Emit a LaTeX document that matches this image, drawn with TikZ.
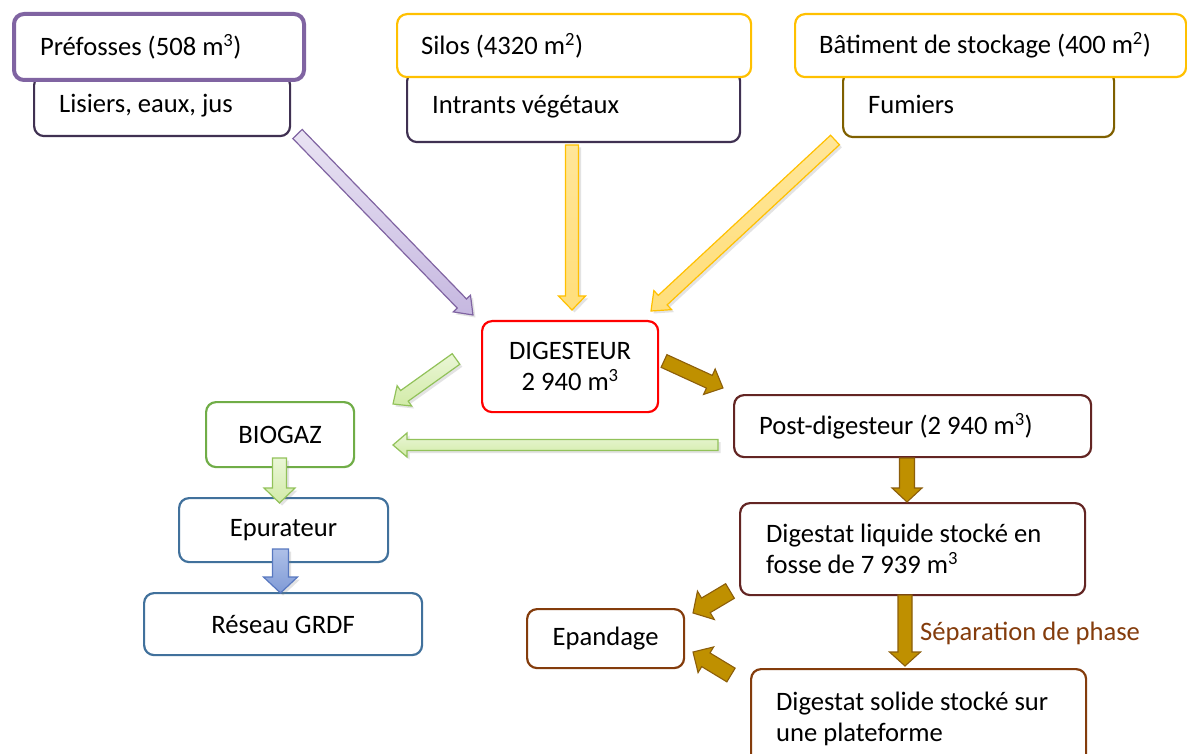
\documentclass[tikz,border=0pt]{standalone}
\usepackage{fontspec}
\setmainfont{Carlito}
\usetikzlibrary{calc,shadows}
\definecolor{prp}{HTML}{8064A2}
\definecolor{dprp}{HTML}{403152}
\definecolor{yel}{HTML}{FFC000}
\definecolor{olv}{HTML}{7F6000}
\definecolor{grn}{HTML}{70AD47}
\definecolor{blu}{HTML}{41719C}
\definecolor{dred}{HTML}{632523}
\definecolor{brn}{HTML}{843C0C}
\definecolor{abrn}{HTML}{BF9000}
\definecolor{abrnd}{HTML}{8C5E0A}
\definecolor{agtop}{HTML}{EAF6D6}
\definecolor{agbot}{HTML}{D2EBA8}
\definecolor{agdr}{HTML}{92C25A}
\definecolor{abtop}{HTML}{AEC0E8}
\definecolor{abbot}{HTML}{7F9AD6}
\definecolor{abdr}{HTML}{5878C0}
\definecolor{aptop}{HTML}{E9E3F3}
\definecolor{apbot}{HTML}{C6B8E0}
\newcommand\barrow[6]{%
  \draw[#1] let \p1=(#2), \p2=(#3), \n1={atan2(\y2-\y1,\x2-\x1)}, \n2={veclen(\x2-\x1,\y2-\y1)} in
    ($(\p1)+(\n1+90:#4)$) -- ($(\p1)+(\n1:\n2-#6)+(\n1+90:#4)$) -- ($(\p1)+(\n1:\n2-#6)+(\n1+90:#5)$)
    -- (\p2) -- ($(\p1)+(\n1:\n2-#6)+(\n1-90:#5)$) -- ($(\p1)+(\n1:\n2-#6)+(\n1-90:#4)$)
    -- ($(\p1)+(\n1-90:#4)$) -- cycle;}
\tikzset{
  box/.style={draw, rounded corners=10pt, fill=white, line width=2.2pt, anchor=north west, inner ysep=0pt},
  lbox/.style={box, align=flush left},
  cbox/.style={box, align=flush center, inner xsep=0pt},
  ashadow/.style={drop shadow={opacity=0.22, shadow xshift=2.5pt, shadow yshift=-2.5pt}},
  aprp/.style={ashadow, draw=prp, line width=1.2pt, top color=aptop, bottom color=apbot},
  ayel/.style={ashadow, draw=yel, line width=1.2pt, top color=yel!40, bottom color=yel!52},
  agrn/.style={ashadow, draw=agdr, line width=1.2pt, top color=agtop, bottom color=agbot},
  ablu/.style={ashadow, draw=abdr, line width=1.2pt, top color=abtop, bottom color=abbot},
  abr/.style={draw=abrnd, line width=1.1pt, fill=abrn},
}
\begin{document}
\begin{tikzpicture}[x=1pt, y=1pt, font=\fontsize{26.6}{31.5}\selectfont\frenchspacing]
\useasboundingbox (0,0) rectangle (1187,-754);
\clip (0,0) rectangle (1187,-754);
\fill[white] (0,0) rectangle (1187,-754);

% top row: lower boxes first
\node[lbox, draw=dprp, minimum width=256pt, minimum height=61pt, text width=206pt, inner xsep=25pt] (lis) at (33,-74) {Lisiers, eaux, jus};
\node[lbox, draw=prp, line width=4pt, minimum width=290pt, minimum height=66pt, text width=238pt, inner xsep=26pt] (pre) at (12,-12) {Préfosses (508 m\textsuperscript{3})};

\node[lbox, draw=dprp, minimum width=333pt, minimum height=71pt, text width=283pt, inner xsep=25pt] (int) at (406,-70) {Intrants végétaux};
\node[lbox, draw=yel, minimum width=354pt, minimum height=63pt, text width=306pt, inner xsep=24pt] (sil) at (396,-13) {Silos (4320 m\textsuperscript{2})};

\node[lbox, draw=olv, minimum width=271pt, minimum height=66pt, text width=221pt, inner xsep=25pt] (fum) at (842,-70) {Fumiers};
\node[lbox, draw=yel, minimum width=391pt, minimum height=63pt, text width=343pt, inner xsep=24pt] (bat) at (794,-13) {Bâtiment de stockage (400 m\textsuperscript{2})};

% centre
\node[cbox, draw=red, minimum width=176pt, minimum height=91pt] (dig) at (481,-320) {DIGESTEUR\\2 940 m\textsuperscript{3}};

% left column
\node[cbox, draw=grn, minimum width=148pt, minimum height=65pt] (bio) at (205,-401) {BIOGAZ};
\node[cbox, draw=blu, minimum width=209pt, minimum height=64pt] (epu) at (178,-497) {Epurateur};
\node[cbox, draw=blu, minimum width=278pt, minimum height=62pt] (res) at (143,-592) {Réseau GRDF};

% right column
\node[lbox, draw=dred, minimum width=357pt, minimum height=62pt, text width=307pt, inner xsep=25pt] (post) at (733,-394) {Post-digesteur (2 940 m\textsuperscript{3})};
\node[lbox, draw=dred, minimum width=345pt, minimum height=92pt, text width=293pt, inner xsep=26pt] (liq) at (739,-502) {Digestat liquide stocké en\\fosse de 7 939 m\textsuperscript{3}};
\node[cbox, draw=brn, minimum width=157pt, minimum height=59pt] (epa) at (526,-608) {Epandage};
\node[lbox, draw=brn, minimum width=335pt, minimum height=100pt, text width=285pt, inner xsep=25pt] (sol) at (750,-668) {Digestat solide stocké sur\\une plateforme};
\node[anchor=base west, text=brn, inner sep=0pt] (sep) at (920,-640) {Séparation de phase};

% arrow end points
\coordinate (a1s) at (297.5,-134); \coordinate (a1e) at (473,-315);
\coordinate (a2s) at (572,-145);   \coordinate (a2e) at (572,-310);
\coordinate (a3s) at (835,-140);   \coordinate (a3e) at (651,-311);
\coordinate (g1s) at (456,-359);   \coordinate (g1e) at (393,-404);
\coordinate (g2s) at (718,-445);   \coordinate (g2e) at (393,-445);
\coordinate (g3s) at (279.5,-458); \coordinate (g3e) at (279.5,-503);
\coordinate (b1s) at (280.5,-549); \coordinate (b1e) at (280.5,-593);
\coordinate (r1s) at (664,-361);   \coordinate (r1e) at (723,-388);
\coordinate (r2s) at (907,-458);   \coordinate (r2e) at (907,-502);
\coordinate (r3s) at (905,-595);   \coordinate (r3e) at (905,-666);
\coordinate (r4s) at (730,-591);   \coordinate (r4e) at (693,-613);
\coordinate (r5s) at (731,-675);   \coordinate (r5e) at (693,-652);

\barrow{aprp}{a1s}{a1e}{6.5}{12}{16}
\barrow{ayel}{a2s}{a2e}{6.5}{13.5}{14}
\barrow{ayel}{a3s}{a3e}{6.5}{13}{16}
\barrow{agrn}{g1s}{g1e}{6.5}{12.5}{14}
\barrow{agrn}{g2s}{g2e}{5.5}{12}{14}
\barrow{agrn}{g3s}{g3e}{7}{15.5}{15}
\barrow{ablu}{b1s}{b1e}{8}{17}{16}
\barrow{abr}{r1s}{r1e}{7}{14}{15}
\barrow{abr}{r2s}{r2e}{7.5}{15}{14}
\barrow{abr}{r3s}{r3e}{7}{15.5}{14}
\barrow{abr}{r4s}{r4e}{8.5}{16.5}{15}
\barrow{abr}{r5s}{r5e}{8}{15}{15}
\end{tikzpicture}
\end{document}
